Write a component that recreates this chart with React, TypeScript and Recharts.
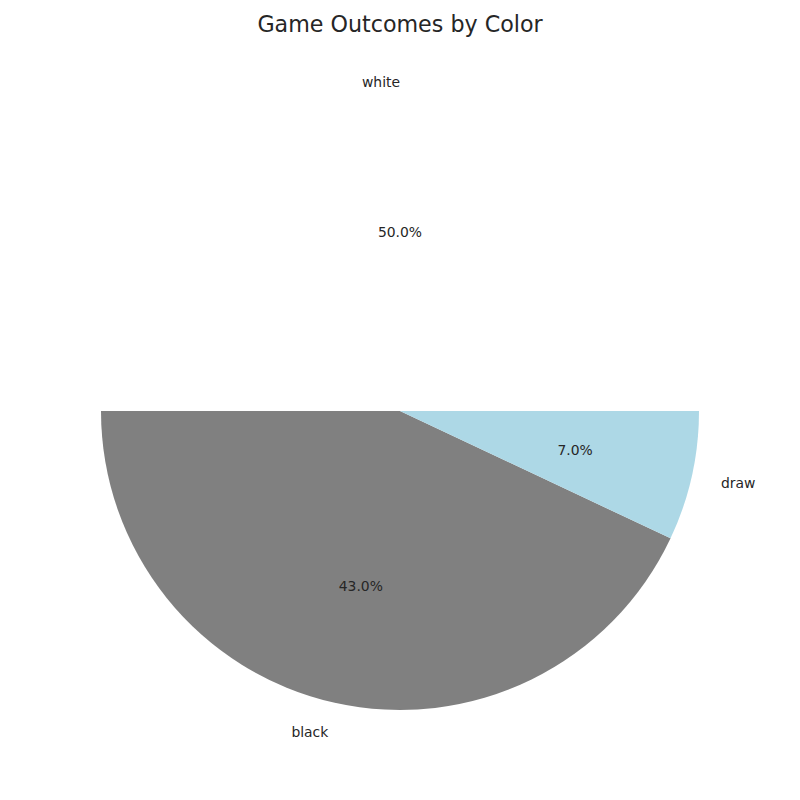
import { PieChart, Pie, Cell } from 'recharts';

const categories = ['white', 'black', 'draw'];
const shares = [50, 43, 7];
const sliceColors = ['#ffffff', '#808080', '#add8e6'];

const data = categories.map((name, i) => ({ name, value: shares[i] }));

const RADIAN = Math.PI / 180;

// matplotlib-style labels: name at 1.1r, percent at 0.6r
function renderLabel(props: any) {
    const { cx, cy, midAngle, outerRadius, percent, name } = props;
    const cos = Math.cos(-midAngle * RADIAN);
    const sin = Math.sin(-midAngle * RADIAN);
    const nx = cx + outerRadius * 1.1 * cos;
    const ny = cy + outerRadius * 1.1 * sin;
    const px = cx + outerRadius * 0.6 * cos;
    const py = cy + outerRadius * 0.6 * sin;
    const anchor = cos > 1e-9 ? 'start' : 'end';
    return (
        <g>
            <text x={nx} y={ny} textAnchor={anchor} dominantBaseline="central"
                fill="#262626" fontSize={13.9} fontFamily="DejaVu Sans">
                {name}
            </text>
            <text x={px} y={py} textAnchor="middle" dominantBaseline="central"
                fill="#262626" fontSize={13.9} fontFamily="DejaVu Sans">
                {`${(percent * 100).toFixed(1)}%`}
            </text>
        </g>
    );
}

export default function App() {
    return (
        <div style={{ position: 'absolute', top: 0, left: 0, width: 800, height: 800, background: '#fff' }}>
            <div style={{
                position: 'absolute', top: 10, left: 0, width: 800, textAlign: 'center',
                fontFamily: 'DejaVu Sans', fontSize: 22.2, lineHeight: '28px', color: '#262626',
            }}>
                Game Outcomes by Color
            </div>
            <PieChart width={800} height={800} margin={{ top: 0, right: 0, bottom: 0, left: 0 }}
                style={{ position: 'absolute', top: 0, left: 0 }}>
                <Pie
                    data={data}
                    dataKey="value"
                    nameKey="name"
                    cx={400}
                    cy={411}
                    outerRadius={299}
                    startAngle={0}
                    endAngle={360}
                    stroke="none"
                    label={renderLabel}
                    labelLine={false}
                    isAnimationActive={false}
                >
                    {data.map((entry, index) => (
                        <Cell key={entry.name} fill={sliceColors[index]} />
                    ))}
                </Pie>
            </PieChart>
        </div>
    );
}
